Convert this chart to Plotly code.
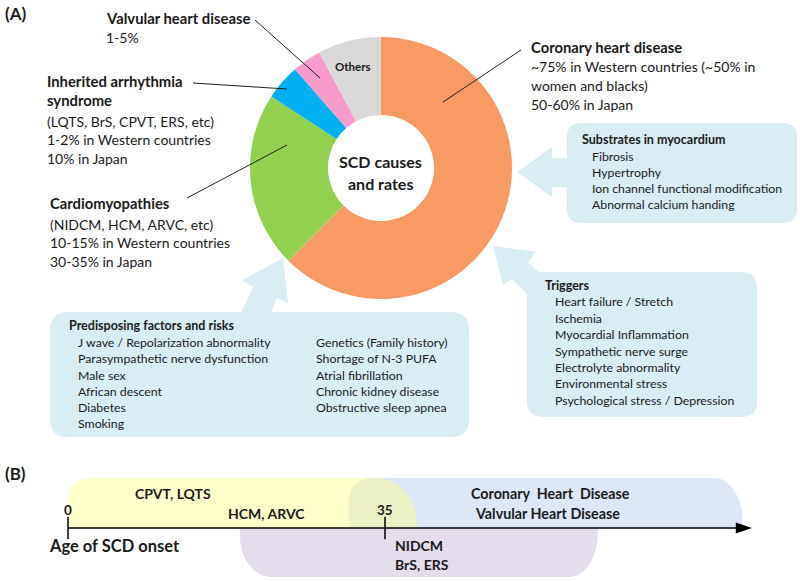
import plotly.graph_objects as go

W, H = 800, 581
FONT = "Lato"

# ---------------- Data: donut (SCD causes, share of cases) ----------------
causes = ["Coronary heart disease", "Cardiomyopathies", "Inherited arrhythmia syndrome",
          "Valvular heart disease", "Others"]
shares = [62.5, 21.7, 4.4, 3.6, 7.8]
slice_colors = ["#F89A64", "#92D050", "#00B0F0", "#F79BCB", "#D9D9D9"]

# ---------------- Data: age of SCD onset timeline ----------------
age_ticks = [0, 35]
age_tick_labels = ["0", "35"]
age_groups = ["CPVT, LQTS / HCM, ARVC", "Coronary / Valvular Heart Disease", "NIDCM / BrS, ERS"]
age_start = [0, 31, 19]
age_end = [38.5, 74.5, 58.5]
age_axis_end = 75.5

# ---------------- Text blocks ----------------
valv_lines = ["Valvular heart disease", "1-5%"]
inher_lines = ["Inherited arrhythmia", "syndrome", "(LQTS, BrS, CPVT, ERS, etc)",
               "1-2% in Western countries", "10% in Japan"]
cardio_lines = ["Cardiomyopathies", "(NIDCM, HCM, ARVC, etc)",
                "10-15% in Western countries", "30-35% in Japan"]
coron_lines = ["Coronary heart disease", "~75% in Western countries (~50% in",
               "women and blacks)", "50-60% in Japan"]
substrate_title = "Substrates in myocardium"
substrate_items = ["Fibrosis", "Hypertrophy", "Ion channel functional modification",
                   "Abnormal calcium handing"]
trigger_title = "Triggers"
trigger_items = ["Heart failure / Stretch", "Ischemia", "Myocardial Inflammation",
                 "Sympathetic nerve surge", "Electrolyte abnormality",
                 "Environmental stress", "Psychological stress / Depression"]
predis_title = "Predisposing factors and risks"
predis_left = ["J wave / Repolarization abnormality", "Parasympathetic nerve dysfunction",
               "Male sex", "African descent", "Diabetes", "Smoking"]
predis_right = ["Genetics (Family history)", "Shortage of N-3 PUFA", "Atrial fibrillation",
                "Chronic kidney disease", "Obstructive sleep apnea"]

# ---------------- helpers ----------------
ann = []
shapes = []
TXT = "#1a1a1a"
BOX = "#DAEDF3"


def txt(x, y, s, size, bold=False, anchor="left", xref="x"):
    ann.append(dict(x=x, y=y, xref=xref, yref="y", text=f"<b>{s}</b>" if bold else s,
                    showarrow=False, xanchor=anchor, yanchor="middle",
                    font=dict(family=FONT, size=size, color=TXT)))


def block(x, ys, lines, size, nbold, bsize=None):
    for i, (yy, s) in enumerate(zip(ys, lines)):
        b = i < nbold
        txt(x, yy, s, (bsize or size) if b else size, bold=b)


def rrect(x0, y0, x1, y1, r):
    return (f"M{x0+r},{y0} L{x1-r},{y0} Q{x1},{y0} {x1},{y0+r} L{x1},{y1-r} "
            f"Q{x1},{y1} {x1-r},{y1} L{x0+r},{y1} Q{x0},{y1} {x0},{y1-r} "
            f"L{x0},{y0+r} Q{x0},{y0} {x0+r},{y0} Z")


def poly(pts):
    return "M" + " L".join(f"{a},{b}" for a, b in pts) + " Z"


def line(x0, y0, x1, y1):
    shapes.append(dict(type="line", xref="x", yref="y", x0=x0, y0=y0, x1=x1, y1=y1,
                       line=dict(color="#222", width=1), layer="above"))


# ---------------- Panel A boxes & arrows ----------------
for p in [rrect(567, 123, 797, 223, 14), rrect(527, 272, 757, 417, 16),
          rrect(50, 312, 469, 437, 18),
          poly([(517, 172), (552, 147), (552, 158), (575, 158), (575, 187), (552, 187), (552, 197)]),
          poly([(493, 246), (536, 252), (528, 262), (560, 293), (543, 310), (512, 279), (503, 285)]),
          poly([(283, 258), (288, 303), (277, 298), (268, 320), (238, 320), (253, 287), (242, 280)])]:
    shapes.append(dict(type="path", xref="x", yref="y", path=p, fillcolor=BOX,
                       line=dict(width=0), layer="below"))

# leader lines
line(255, 20, 320, 78)
line(193, 83, 287, 89)
line(187, 198, 287, 145)
line(521, 50, 443, 102)

# ---------------- Panel A texts ----------------
txt(3, 13, "(A)", 17, bold=True)
block(104, [18, 37], valv_lines, 14, 1, 14.8)
block(45, [81, 100, 121, 139, 158], inher_lines, 14, 2, 14.8)
block(48, [203, 224, 242, 261], cardio_lines, 14, 1, 14.8)
block(529, [47, 66, 85, 104], coron_lines, 14, 1, 14.8)
txt(353, 66, "Others", 11.5, bold=True, anchor="center")
txt(380, 161, "SCD causes", 16, bold=True, anchor="center")
txt(380, 183, "and rates", 16, bold=True, anchor="center")

txt(580, 139, substrate_title, 12.5, bold=True)
block(590, [156, 172, 188, 204], substrate_items, 12.3, 0)
txt(543, 285, trigger_title, 12.5, bold=True)
block(553, [301, 318, 334, 351, 367, 383, 400], trigger_items, 12.3, 0)
txt(67, 325, predis_title, 12.5, bold=True)
block(76, [342, 358, 375, 391, 407, 423], predis_left, 12.3, 0)
block(314, [342, 358, 375, 391, 407], predis_right, 12.3, 0)

# ---------------- Panel B: timeline regions (age axis = x2) ----------------
X0PX, X35PX = 68, 385
s = (X35PX - X0PX) / 35.0  # px per year
YT, YA, YB = 478, 528, 577
K = 0.552


def region_top(a0, a1, rl, ryl, rr, ryr):
    rl, rr = rl / s, rr / s
    return (f"M{a0},{YA} L{a0},{YT+ryl} Q{a0},{YT} {a0+rl},{YT} L{a1-rr},{YT} "
            f"C{a1-rr+K*rr},{YT} {a1},{YT+ryr-K*ryr} {a1},{YT+ryr} L{a1},{YA} Z")


def region_bottom(a0, a1, rl, ryl, rr, ryr):
    rl, rr = rl / s, rr / s
    return (f"M{a0},{YA} L{a1},{YA} L{a1},{YB-ryr} "
            f"C{a1},{YB-ryr+K*ryr} {a1-rr+K*rr},{YB} {a1-rr},{YB} L{a0+rl},{YB} "
            f"C{a0+rl-K*rl},{YB} {a0},{YB-ryl+K*ryl} {a0},{YB-ryl} Z")


region_paths = [
    (region_top(age_start[1], age_end[1], 25, 25, 28, 45), "#DDE7F5"),
    (region_bottom(age_start[2], age_end[2], 32, 40, 28, 45), "#E3DDEC"),
    (region_top(age_start[0], age_end[0], 25, 22, 40, 46), "rgba(255,255,140,0.45)"),
]
for p, c in region_paths:
    shapes.append(dict(type="path", xref="x2", yref="y", path=p, fillcolor=c,
                       line=dict(width=0), layer="below"))

# arrow head of age axis
ah = 16 / s
shapes.append(dict(type="path", xref="x2", yref="y",
                   path=f"M{age_axis_end},{YA} L{age_axis_end-ah},{YA-5.5} L{age_axis_end-ah},{YA+5.5} Z",
                   fillcolor="black", line=dict(width=0), layer="above"))

# Panel B texts
txt(3, 473, "(B)", 17, bold=True)
for a, lab in zip(age_ticks, age_tick_labels):
    txt(a, 510, lab, 13.5, bold=True, anchor="center", xref="x2")
txt(47, 546, "Age of SCD onset", 16.5, bold=True)
txt(173, 493, "CPVT, LQTS", 14, bold=True, anchor="center")
txt(266, 513, "HCM, ARVC", 14, bold=True, anchor="center")
txt(550, 493, "Coronary&nbsp; Heart&nbsp; Disease", 14.3, bold=True, anchor="center")
txt(547, 513, "Valvular Heart Disease", 14.3, bold=True, anchor="center")
txt(393, 545, "NIDCM", 14, bold=True)
txt(393, 564, "BrS, ERS", 14, bold=True)

# ---------------- traces ----------------
fig = go.Figure()
fig.add_trace(go.Scatter(x=[0, age_axis_end - 1.2], y=[YA, YA], xaxis="x2", yaxis="y",
                         mode="lines", line=dict(color="black", width=1.5),
                         showlegend=False, hoverinfo="skip"))
fig.add_trace(go.Scatter(x=age_ticks, y=[YA] * len(age_ticks), xaxis="x2", yaxis="y",
                         mode="markers",
                         marker=dict(symbol="line-ns", size=16, line=dict(width=1.5, color="black")),
                         showlegend=False, hoverinfo="skip"))
fig.add_trace(go.Scatter(x=[None], y=[None], xaxis="x", yaxis="y", showlegend=False,
                         hoverinfo="skip"))
fig.add_trace(go.Pie(labels=causes, values=shares, marker=dict(colors=slice_colors),
                     hole=0.405, sort=False, direction="clockwise", rotation=0,
                     textinfo="none", hoverinfo="label+percent", showlegend=False,
                     domain=dict(x=[250 / W, 512 / W], y=[1 - 299 / H, 1 - 37 / H])))

fig.update_layout(
    width=W, height=H, margin=dict(l=0, r=0, t=0, b=0),
    paper_bgcolor="white", plot_bgcolor="white",
    xaxis=dict(range=[0, W], visible=False, fixedrange=True),
    xaxis2=dict(range=[-X0PX / s, (W - X0PX) / s], visible=False, overlaying="x",
                anchor="y", fixedrange=True),
    yaxis=dict(range=[H, 0], visible=False, fixedrange=True),
    shapes=shapes, annotations=ann, showlegend=False,
)
fig.write_html("out.html", config={"displayModeBar": False},
               post_script="document.body.style.margin='0';document.body.style.overflow='hidden';")
